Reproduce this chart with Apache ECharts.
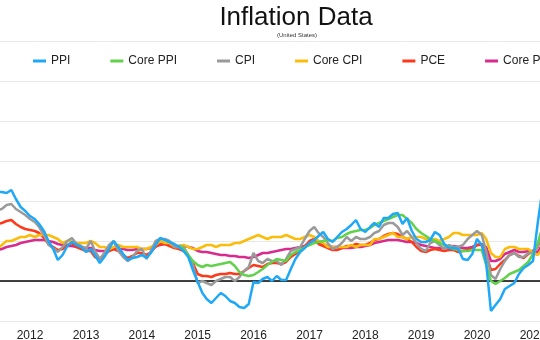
<!DOCTYPE html>
<html>
<head>
<meta charset="utf-8">
<script src="https://cdn.jsdelivr.net/npm/echarts@6/dist/echarts.min.js"></script>
<style>
  html, body { margin: 0; padding: 0; background: #fff; overflow: hidden; }
  #chart { width: 540px; height: 340px; }
</style>
</head>
<body>
<div id="chart"></div>
<script>
// Year-over-year inflation rates (%), monthly, June 2011 through March 2021
const firstMonth = [2011, 5];          // [year, zero-based month] of the first value
const corePpiFirstMonth = [2014, 8];   // Core PPI series begins later

const seriesNames = ['PPI', 'Core PPI', 'CPI', 'Core CPI', 'PCE', 'Core PCE'];
const yearTicks = [2012, 2013, 2014, 2015, 2016, 2017, 2018, 2019, 2020, 2021];

const ppi = [
  4.45, 4.45, 4.4, 4.55, 4.1, 3.7, 3.5,
  3.25, 3.1, 2.85, 2.5, 2.0, 1.6, 1.05, 1.3, 1.75, 1.95, 1.8, 1.7,
  1.45, 1.6, 1.3, 0.9, 1.2, 1.6, 2.0, 1.7, 1.35, 1.05, 1.15, 1.2,
  1.3, 1.15, 1.4, 1.8, 2.15, 2.05, 1.95, 1.85, 1.7, 1.5, 1.2, 0.55,
  -0.05, -0.6, -0.9, -1.1, -0.85, -0.6, -0.75, -1.0, -1.1, -1.3, -1.35, -1.15,
  -0.05, -0.1, 0.1, 0.2, 0.0, 0.25, 0.05, 0.05, 0.6, 1.1, 1.45, 1.65,
  1.9, 2.05, 2.25, 2.45, 2.1, 1.95, 2.2, 2.45, 2.6, 2.8, 3.05, 2.6,
  2.45, 2.7, 2.9, 2.7, 3.15, 3.15, 3.35, 3.4, 2.85, 3.15, 2.5, 2.1,
  1.95, 1.95, 2.05, 2.45, 2.3, 1.85, 1.65, 1.65, 1.6, 1.1, 1.05, 1.35,
  2.1, 1.8, 0.9, -1.5, -1.2, -0.9, -0.4, -0.25, -0.1, 0.35, 0.65, 0.8,
  1.0, 2.9, 4.4
];

const corePpi = [
  1.8, 1.6, 1.3, 1.0,
  0.8, 0.7, 0.8, 0.75, 0.8, 0.85, 0.9, 0.95, 0.75, 0.45, 0.3, 0.25,
  0.3, 0.45, 0.6, 0.8, 0.95, 1.1, 1.05, 1.0, 1.3, 1.45, 1.55, 1.7,
  1.8, 1.9, 1.95, 2.0, 2.05, 2.0, 2.15, 2.2, 2.35, 2.45, 2.5, 2.55,
  2.55, 2.65, 2.8, 2.9, 3.0, 3.1, 3.2, 3.3, 3.3, 3.1, 2.9, 2.6,
  2.4, 2.25, 2.1, 2.0, 1.9, 1.8, 1.7, 1.6, 1.55, 1.5, 1.5, 1.55,
  1.55, 1.55, 0.8, 0.0, -0.15, 0.0, 0.15, 0.35, 0.45, 0.55, 0.75, 0.95,
  1.35, 1.9, 2.6
];

const cpi = [
  3.55, 3.6, 3.8, 3.85, 3.6, 3.45, 3.3,
  3.1, 2.95, 2.7, 2.3, 1.8, 1.65, 1.45, 1.7, 2.0, 2.15, 1.85, 1.75,
  1.6, 2.0, 1.5, 1.1, 1.4, 1.8, 2.0, 1.5, 1.2, 1.0, 1.2, 1.5,
  1.6, 1.1, 1.5, 2.0, 2.1, 2.1, 2.0, 1.7, 1.7, 1.7, 1.3, 0.8,
  -0.1, 0.0, -0.1, -0.2, 0.0, 0.1, 0.2, 0.2, 0.0, 0.2, 0.5, 0.7,
  1.4, 1.0, 0.9, 1.1, 1.0, 1.0, 0.8, 1.1, 1.5, 1.6, 1.7, 2.1,
  2.5, 2.7, 2.4, 2.2, 1.9, 1.6, 1.7, 1.9, 2.2, 2.0, 2.2, 2.1,
  2.1, 2.2, 2.4, 2.5, 2.8, 2.9, 2.9, 2.7, 2.3, 2.5, 2.2, 1.9,
  1.6, 1.5, 1.9, 2.0, 1.8, 1.6, 1.8, 1.7, 1.7, 1.8, 2.1, 2.3,
  2.5, 2.3, 1.5, 0.3, 0.1, 0.6, 1.0, 1.3, 1.4, 1.2, 1.2, 1.4,
  1.4, 1.7, 2.6
];

const coreCpi = [
  1.6, 1.8, 2.0, 2.0, 2.1, 2.2, 2.2,
  2.3, 2.2, 2.3, 2.3, 2.3, 2.2, 2.1, 1.9, 2.0, 2.0, 1.9, 1.9,
  1.9, 2.0, 1.9, 1.7, 1.7, 1.6, 1.7, 1.8, 1.7, 1.7, 1.7, 1.7,
  1.6, 1.6, 1.7, 1.8, 2.0, 1.9, 1.9, 1.7, 1.7, 1.8, 1.7, 1.6,
  1.6, 1.7, 1.8, 1.8, 1.7, 1.8, 1.8, 1.8, 1.9, 1.9, 2.0, 2.1,
  2.2, 2.3, 2.2, 2.1, 2.2, 2.2, 2.2, 2.3, 2.2, 2.1, 2.1, 2.2,
  2.3, 2.2, 2.0, 1.9, 1.7, 1.7, 1.7, 1.7, 1.7, 1.8, 1.7, 1.8,
  1.8, 1.8, 2.1, 2.1, 2.2, 2.3, 2.4, 2.2, 2.2, 2.1, 2.2, 2.2,
  2.2, 2.1, 2.0, 2.1, 2.0, 2.1, 2.2, 2.4, 2.4, 2.3, 2.3, 2.3,
  2.3, 2.4, 2.1, 1.4, 1.2, 1.2, 1.6, 1.7, 1.7, 1.6, 1.6, 1.6,
  1.4, 1.3, 1.6
];

const pce = [
  2.85, 2.9, 3.0, 3.05, 2.85, 2.7, 2.6,
  2.55, 2.5, 2.4, 2.15, 1.85, 1.7, 1.55, 1.6, 1.8, 1.9, 1.7, 1.6,
  1.5, 1.5, 1.2, 1.1, 1.3, 1.5, 1.6, 1.5, 1.3, 1.15, 1.25, 1.4,
  1.4, 1.3, 1.45, 1.7, 1.85, 1.85, 1.75, 1.65, 1.6, 1.5, 1.25, 0.9,
  0.35, 0.25, 0.25, 0.2, 0.3, 0.35, 0.35, 0.4, 0.35, 0.35, 0.5, 0.65,
  0.8, 0.75, 0.7, 0.85, 0.9, 0.9, 0.85, 0.95, 1.2, 1.35, 1.5, 1.7,
  2.0, 2.1, 1.85, 1.75, 1.65, 1.55, 1.55, 1.65, 1.75, 1.75, 1.85, 1.8,
  1.8, 1.9, 2.05, 2.1, 2.25, 2.35, 2.4, 2.35, 2.2, 2.1, 1.95, 1.7,
  1.5, 1.45, 1.55, 1.6, 1.55, 1.5, 1.55, 1.55, 1.45, 1.5, 1.55, 1.6,
  1.8, 1.8, 1.3, 0.55, 0.6, 0.85, 1.05, 1.3, 1.4, 1.25, 1.15, 1.35,
  1.5, 1.7, 2.4
];

const corePce = [
  1.55, 1.6, 1.7, 1.75, 1.8, 1.9, 1.95,
  2.0, 2.05, 2.05, 2.05, 2.0, 1.95, 1.85, 1.8, 1.75, 1.75, 1.7, 1.7,
  1.65, 1.65, 1.55, 1.5, 1.5, 1.55, 1.6, 1.6, 1.6, 1.55, 1.55, 1.6,
  1.6, 1.6, 1.65, 1.75, 1.8, 1.85, 1.8, 1.75, 1.75, 1.75, 1.7, 1.65,
  1.5, 1.45, 1.45, 1.4, 1.35, 1.3, 1.3, 1.25, 1.25, 1.2, 1.2, 1.15,
  1.2, 1.3, 1.4, 1.4, 1.45, 1.5, 1.55, 1.6, 1.6, 1.65, 1.7, 1.75,
  1.95, 2.05, 1.95, 1.85, 1.75, 1.7, 1.7, 1.65, 1.65, 1.65, 1.7, 1.7,
  1.75, 1.8, 1.9, 1.95, 2.0, 2.05, 2.05, 2.05, 2.0, 1.95, 1.95, 1.9,
  1.8, 1.75, 1.7, 1.65, 1.65, 1.65, 1.7, 1.75, 1.7, 1.65, 1.65, 1.7,
  1.8, 1.85, 1.7, 1.0, 1.0, 1.1, 1.35, 1.45, 1.55, 1.45, 1.45, 1.5,
  1.5, 1.45, 1.8
];

const seriesColors = {
  'PPI': '#1ea8f7',
  'Core PPI': '#62d14c',
  'CPI': '#9a9a9a',
  'Core CPI': '#fbbd0c',
  'PCE': '#fc3a1b',
  'Core PCE': '#d82b8d'
};

// Pair each monthly value with the first day of its month
function toPoints(values, start) {
  return values.map((v, i) => [new Date(start[0], start[1] + i, 1).getTime(), v]);
}

const valuesByName = {
  'PPI': toPoints(ppi, firstMonth),
  'Core PPI': toPoints(corePpi, corePpiFirstMonth),
  'CPI': toPoints(cpi, firstMonth),
  'Core CPI': toPoints(coreCpi, firstMonth),
  'PCE': toPoints(pce, firstMonth),
  'Core PCE': toPoints(corePce, firstMonth)
};

const font = 'Helvetica, "Liberation Sans", Arial, sans-serif';
const yearMs = 365 * 24 * 3600 * 1000;

// Drawing order: PPI last so it sits on top
const drawOrder = ['Core PCE', 'PCE', 'Core CPI', 'CPI', 'Core PPI', 'PPI'];

const series = drawOrder.map((name, idx) => {
  const s = {
    name: name,
    type: 'line',
    data: valuesByName[name],
    showSymbol: false,
    symbol: 'none',
    smooth: false,
    lineStyle: { width: 2.5, color: seriesColors[name] },
    itemStyle: { color: seriesColors[name] },
    emphasis: { disabled: true },
    z: 3 + idx
  };
  if (idx === 0) {
    s.markLine = {
      silent: true,
      symbol: ['none', 'none'],
      label: { show: false },
      lineStyle: { color: '#000', width: 1.5, type: 'solid' },
      data: [{ yAxis: 0 }],
      z: 2
    };
  }
  return s;
});

const chart = echarts.init(document.getElementById('chart'), null, { renderer: 'canvas' });
chart.setOption({
  animation: false,
  backgroundColor: '#fff',
  title: [
    {
      text: 'Inflation Data',
      left: 291,
      top: 0,
      textAlign: 'center',
      textStyle: { fontFamily: font, fontSize: 26, fontWeight: 'normal', color: '#111' }
    },
    {
      text: '(United States)',
      left: 292,
      top: 27,
      textAlign: 'center',
      textStyle: { fontFamily: font, fontSize: 6, fontWeight: 'normal', color: '#333' }
    }
  ],
  legend: {
    data: seriesNames,
    left: 28,
    top: 50,
    width: 700,
    itemWidth: 13,
    itemHeight: 3,
    itemGap: 40,
    icon: 'rect',
    textStyle: { fontFamily: font, fontSize: 12, color: '#222' }
  },
  grid: {
    left: 0, right: 0, top: 41, bottom: 19,
    containLabel: false,
    outerBoundsMode: 'none'
  },
  xAxis: {
    type: 'time',
    min: new Date(2011, 5, 19).getTime(),
    max: new Date(2021, 1, 15, 19).getTime(),
    minInterval: yearMs,
    maxInterval: yearMs,
    splitNumber: yearTicks.length,
    axisLine: { show: false },
    axisTick: { show: false },
    splitLine: { show: false },
    axisLabel: {
      formatter: '{yyyy}',
      margin: 9,
      fontFamily: font,
      fontSize: 12,
      color: '#222',
      hideOverlap: false
    }
  },
  yAxis: {
    type: 'value',
    min: -2,
    max: 12,
    interval: 2,
    axisLine: { show: false },
    axisTick: { show: false },
    axisLabel: { show: false },
    splitLine: { lineStyle: { color: '#e8e8e8', width: 1 } }
  },
  series: series
});
</script>
</body>
</html>
